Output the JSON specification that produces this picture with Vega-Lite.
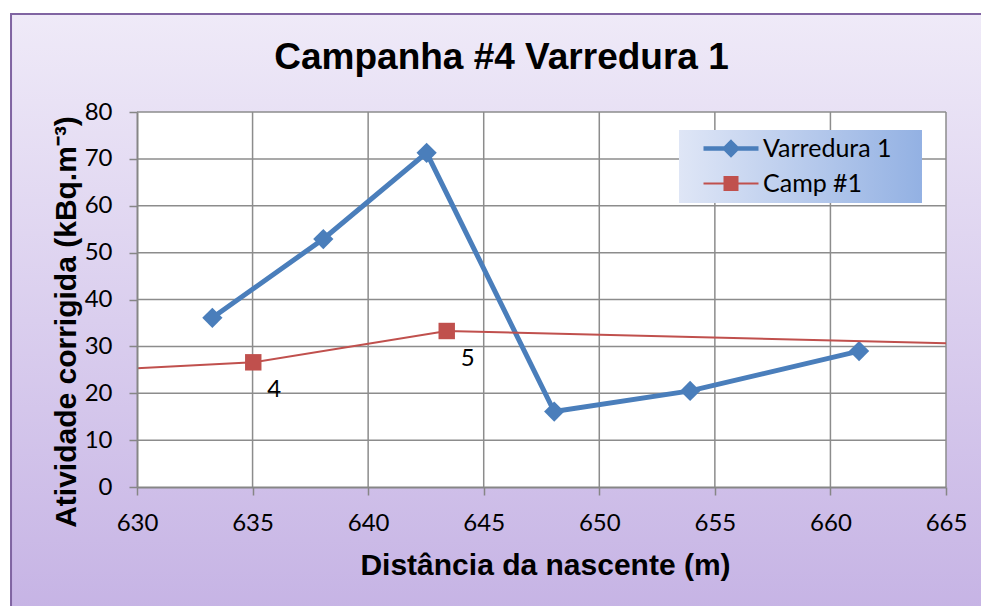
{
  "$schema": "https://vega.github.io/schema/vega-lite/v6.json",
  "width": 809,
  "height": 375,
  "autosize": {"type": "none"},
  "padding": {"left": 137, "top": 112, "right": 35, "bottom": 119},
  "background": "#ffffff",
  "config": {"view": {"stroke": null}},
  "datasets": {
    "varredura": [
      {"d": 633.26, "a": 36.1},
      {"d": 638.06, "a": 52.9},
      {"d": 642.53, "a": 71.3},
      {"d": 648.05, "a": 16.1},
      {"d": 653.93, "a": 20.5},
      {"d": 661.24, "a": 29.0}
    ],
    "camp": [
      {"d": 625.0, "a": 24.05, "label": ""},
      {"d": 635.03, "a": 26.6, "label": "4"},
      {"d": 643.4, "a": 33.28, "label": "5"},
      {"d": 670.0, "a": 30.04, "label": ""}
    ],
    "gridx": [{"gx": 635}, {"gx": 640}, {"gx": 645}, {"gx": 650}, {"gx": 655}, {"gx": 660}, {"gx": 665}],
    "gridy": [{"gy": 10}, {"gy": 20}, {"gy": 30}, {"gy": 40}, {"gy": 50}, {"gy": 60}, {"gy": 70}, {"gy": 80}],
    "legend": [{"series": "Varredura 1"}, {"series": "Camp #1"}],
    "frame": [{"name": "frame"}]
  },
  "title": {
    "text": "Campanha #4 Varredura 1",
    "font": "Liberation Sans",
    "fontSize": 37,
    "fontWeight": "bold",
    "color": "#000000",
    "anchor": "middle",
    "baseline": "alphabetic",
    "offset": -93,
    "dx": -40,
    "zindex": 1
  },
  "layer": [
    {
      "data": {"name": "legend"},
      "mark": {"type": "point", "filled": true, "opacity": 1},
      "encoding": {
        "fill": {
          "field": "series", "type": "nominal",
          "scale": {"domain": ["Varredura 1", "Camp #1"], "range": ["#4A7EBB", "#C0504D"]},
          "legend": {
            "title": null,
            "orient": "none",
            "legendX": 542,
            "legendY": 18,
            "padding": 6,
            "fillColor": {"value": {"gradient": "linear", "x1": 0, "y1": 0, "x2": 1, "y2": 0, "stops": [{"offset": 0, "color": "#DFE6F6"}, {"offset": 1, "color": "#93B1E3"}]}},
            "strokeColor": null,
            "symbolSize": 400,
            "symbolOpacity": 1,
            "symbolStrokeWidth": {"expr": "datum.value === 'Varredura 1' ? 4.5 : 2"},
            "symbolOffset": 33.5,
            "labelOffset": 19.5,
            "rowPadding": 7,
            "labelFont": "Lato",
            "labelFontSize": 25,
            "labelColor": "#000000",
            "labelExpr": "datum.label + '\u00a0\u2800'",
            "zindex": 1
          }
        },
        "stroke": {
          "field": "series", "type": "nominal",
          "scale": {"domain": ["Varredura 1", "Camp #1"], "range": ["#4A7EBB", "#C0504D"]}
        },
        "shape": {
          "field": "series", "type": "nominal",
          "scale": {"domain": ["Varredura 1", "Camp #1"], "range": ["M-2.75,0H2.75M0,-0.6L0.6,0L0,0.6L-0.6,0Z", "M-2.75,0H2.75M-0.65,-0.65H0.65V0.65H-0.65Z"]}
        }
      }
    },
    {
      "data": {"name": "frame"},
      "mark": {
        "type": "rect",
        "fill": {"gradient": "linear", "x1": 0, "y1": 0, "x2": 0, "y2": 1, "stops": [{"offset": 0, "color": "#EFEAF8"}, {"offset": 1, "color": "#C5B2E4"}]},
        "stroke": "#8064A2",
        "strokeWidth": 2
      },
      "encoding": {
        "x": {"datum": 624.55, "type": "quantitative", "scale": {"domain": [630, 665], "nice": false, "zero": false}},
        "x2": {"datum": 666.95},
        "y": {"datum": -30, "type": "quantitative", "scale": {"domain": [0, 80], "nice": false}},
        "y2": {"datum": 100.9}
      }
    },
    {
      "data": {"name": "frame"},
      "mark": {"type": "rect", "fill": "#ffffff"},
      "encoding": {
        "x": {"datum": 630, "type": "quantitative", "scale": {"domain": [630, 665], "nice": false, "zero": false}},
        "x2": {"datum": 665},
        "y": {"datum": 0, "type": "quantitative", "scale": {"domain": [0, 80], "nice": false}},
        "y2": {"datum": 80}
      }
    },
    {
      "data": {"name": "gridx"},
      "mark": {"type": "rule", "color": "#8C8C8C", "strokeWidth": 1.5},
      "encoding": {
        "x": {"field": "gx", "type": "quantitative", "scale": {"domain": [630, 665], "nice": false, "zero": false}}
      }
    },
    {
      "data": {"name": "gridy"},
      "mark": {"type": "rule", "color": "#8C8C8C", "strokeWidth": 1.5},
      "encoding": {
        "y": {"field": "gy", "type": "quantitative", "scale": {"domain": [0, 80], "nice": false}}
      }
    },
    {
      "data": {"name": "varredura"},
      "mark": {"type": "line", "color": "#4A7EBB", "strokeWidth": 5, "clip": true},
      "encoding": {
        "x": {
          "field": "d", "type": "quantitative",
          "scale": {"domain": [630, 665], "nice": false, "zero": false},
          "axis": {
            "title": "Distância da nascente (m)",
            "values": [630, 635, 640, 645, 650, 655, 660, 665],
            "grid": false,
            "domainColor": "#868686",
            "domainWidth": 2,
            "tickColor": "#868686",
            "tickWidth": 1.5,
            "tickSize": 8,
            "labelFont": "Lato",
            "labelFontSize": 24,
            "labelColor": "#000000",
            "labelPadding": 16,
            "labelFlush": false,
            "labelOverlap": false,
            "titleFont": "Liberation Sans",
            "titleFontSize": 30,
            "titleFontWeight": "bold",
            "titleColor": "#000000",
            "titleX": 408,
            "titleY": 87,
            "titleAlign": "center",
            "titleBaseline": "alphabetic",
            "zindex": 1
          }
        },
        "y": {
          "field": "a", "type": "quantitative",
          "scale": {"domain": [0, 80], "nice": false},
          "axis": {
            "title": "Atividade corrigida (kBq.m⁻³)",
            "values": [0, 10, 20, 30, 40, 50, 60, 70, 80],
            "grid": false,
            "domainColor": "#868686",
            "domainWidth": 2,
            "tickColor": "#868686",
            "tickWidth": 1.5,
            "tickSize": 8,
            "labelFont": "Lato",
            "labelFontSize": 24,
            "labelColor": "#000000",
            "labelPadding": 17,
            "labelFlush": false,
            "labelOverlap": false,
            "titleFont": "Liberation Sans",
            "titleFontSize": 30,
            "titleFontWeight": "bold",
            "titleColor": "#000000",
            "titleX": -62,
            "titleY": 209.5,
            "titleAngle": 270,
            "titleAlign": "center",
            "titleBaseline": "alphabetic",
            "zindex": 1
          }
        }
      }
    },
    {
      "data": {"name": "varredura"},
      "mark": {"type": "point", "shape": "diamond", "size": 410, "filled": true, "opacity": 1, "color": "#4A7EBB", "clip": true},
      "encoding": {
        "x": {"field": "d", "type": "quantitative", "scale": {"domain": [630, 665], "nice": false, "zero": false}},
        "y": {"field": "a", "type": "quantitative", "scale": {"domain": [0, 80], "nice": false}}
      }
    },
    {
      "data": {"name": "camp"},
      "mark": {"type": "line", "color": "#C0504D", "strokeWidth": 2, "clip": true},
      "encoding": {
        "x": {"field": "d", "type": "quantitative", "scale": {"domain": [630, 665], "nice": false, "zero": false}},
        "y": {"field": "a", "type": "quantitative", "scale": {"domain": [0, 80], "nice": false}}
      }
    },
    {
      "data": {"name": "camp"},
      "mark": {"type": "point", "shape": "square", "size": 270, "filled": true, "opacity": 1, "color": "#C0504D", "clip": true},
      "encoding": {
        "x": {"field": "d", "type": "quantitative", "scale": {"domain": [630, 665], "nice": false, "zero": false}},
        "y": {"field": "a", "type": "quantitative", "scale": {"domain": [0, 80], "nice": false}}
      }
    },
    {
      "data": {"name": "camp"},
      "mark": {"type": "text", "font": "Lato", "fontSize": 24, "color": "#000000", "align": "center", "baseline": "middle", "dx": 21, "dy": 28, "clip": true},
      "encoding": {
        "x": {"field": "d", "type": "quantitative", "scale": {"domain": [630, 665], "nice": false, "zero": false}},
        "y": {"field": "a", "type": "quantitative", "scale": {"domain": [0, 80], "nice": false}},
        "text": {"field": "label"}
      }
    }
  ]
}
